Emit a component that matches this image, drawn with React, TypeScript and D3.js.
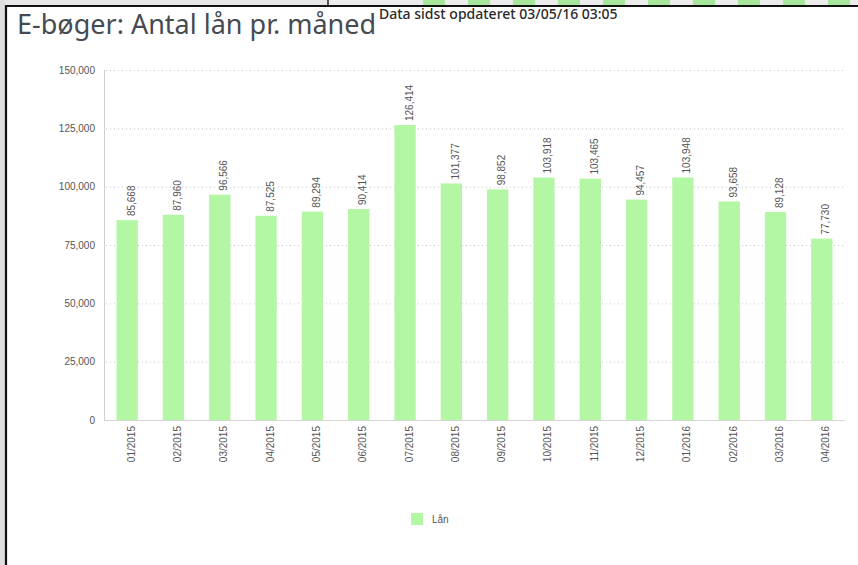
import { useRef, useEffect } from "react";
import * as d3 from "d3";

const months = [
  "01/2015", "02/2015", "03/2015", "04/2015", "05/2015", "06/2015", "07/2015", "08/2015",
  "09/2015", "10/2015", "11/2015", "12/2015", "01/2016", "02/2016", "03/2016", "04/2016",
];
const loans = [
  85668, 87960, 96566, 87525, 89294, 90414, 126414, 101377,
  98852, 103918, 103465, 94457, 103948, 93658, 89128, 77730,
];
const yTicks = [0, 25000, 50000, 75000, 100000, 125000, 150000];
const seriesName = "Lån";
const title = "E-bøger: Antal lån pr. måned";
const updated = "Data sidst opdateret 03/05/16 03:05";

const W = 858;
const H = 565;
const MARGIN = { top: 70, right: 13, bottom: 145, left: 104 };
const BAR = "#b3f6a4";
const LABEL = "#555";
const FONT = "'Liberation Sans', Arial, sans-serif";

export default function App() {
  const svgRef = useRef<SVGSVGElement>(null);

  useEffect(() => {
    if (!svgRef.current) return;
    const svg = d3.select(svgRef.current);
    svg.selectAll("*").remove();

    const innerW = W - MARGIN.left - MARGIN.right;
    const innerH = H - MARGIN.top - MARGIN.bottom;

    // dashboard frame bits (screenshot edges)
    svg.append("rect").attr("x", 0).attr("y", 0).attr("width", W).attr("height", H).attr("fill", "#fff");
    svg.append("rect").attr("x", 0).attr("y", 0).attr("width", W).attr("height", 5).attr("fill", "#e6e6e6");
    svg.append("rect").attr("x", 329).attr("y", 0).attr("width", W - 329).attr("height", 5).attr("fill", "#ececec");
    svg.selectAll("rect.strip")
      .data(d3.range(423, W, 45))
      .join("rect")
      .attr("class", "strip")
      .attr("x", (d) => d).attr("y", 0)
      .attr("width", 22).attr("height", 5)
      .attr("fill", "#a6e79c");
    svg.append("line").attr("x1", 328).attr("x2", 328).attr("y1", 0).attr("y2", 5)
      .attr("stroke", "#222").attr("stroke-width", 1.5);
    svg.append("rect").attr("x", 0).attr("y", 0).attr("width", 5).attr("height", H).attr("fill", "#dedede");
    svg.append("line").attr("x1", 5).attr("x2", W).attr("y1", 6).attr("y2", 6)
      .attr("stroke", "#111").attr("stroke-width", 2.2);
    svg.append("line").attr("x1", 6).attr("x2", 6).attr("y1", 5).attr("y2", H)
      .attr("stroke", "#111").attr("stroke-width", 2.2);

    // title
    svg.append("text")
      .attr("x", 17).attr("y", 34)
      .attr("fill", "#464b52")
      .style("font-family", "'Noto Sans', 'Open Sans', sans-serif")
      .style("font-size", "27px")
      .text(title);
    svg.append("text")
      .attr("x", 379).attr("y", 19)
      .attr("fill", "#2a2a2a")
      .style("font-family", "'Noto Sans', 'Open Sans', sans-serif")
      .style("font-size", "14px")
      .style("font-weight", 500)
      .text(updated);

    const g = svg.append("g").attr("transform", `translate(${MARGIN.left},${MARGIN.top})`);

    const x = d3.scaleBand<string>().domain(months).range([0, innerW]).paddingInner(0.54).paddingOuter(0.27);
    const y = d3.scaleLinear().domain([0, 150000]).range([innerH, 0]);
    const fmt = d3.format(",");

    // gridlines
    g.selectAll("line.grid")
      .data(yTicks.filter((t) => t > 0))
      .join("line")
      .attr("class", "grid")
      .attr("x1", 2).attr("x2", innerW)
      .attr("y1", (d) => y(d) + 0.5).attr("y2", (d) => y(d) + 0.5)
      .attr("stroke", "#c8c8c8").attr("stroke-width", 1)
      .attr("stroke-dasharray", "1,3");

    // y axis
    g.append("line")
      .attr("x1", 0.5).attr("x2", 0.5).attr("y1", 0).attr("y2", innerH)
      .attr("stroke", "#cfcfcf");
    g.selectAll("text.ytick")
      .data(yTicks)
      .join("text")
      .attr("class", "ytick")
      .attr("x", -9).attr("y", (d) => y(d))
      .attr("dy", "0.35em")
      .attr("text-anchor", "end")
      .attr("fill", LABEL)
      .style("font-family", FONT).style("font-size", "10px")
      .text((d) => fmt(d));

    // bars
    g.selectAll("rect.bar")
      .data(loans)
      .join("rect")
      .attr("class", "bar")
      .attr("x", (_, i) => x(months[i])!)
      .attr("y", (d) => y(d))
      .attr("width", x.bandwidth())
      .attr("height", (d) => innerH - y(d))
      .attr("fill", BAR);

    // value labels
    g.selectAll("text.val")
      .data(loans)
      .join("text")
      .attr("class", "val")
      .attr("transform", (d, i) => `translate(${x(months[i])! + x.bandwidth() / 2 + 4},${y(d) - 4}) rotate(-90)`)
      .attr("dy", "0.35em")
      .attr("text-anchor", "start")
      .attr("fill", LABEL)
      .style("font-family", FONT).style("font-size", "10px")
      .text((d) => fmt(d));

    // x axis
    g.append("line")
      .attr("x1", 0).attr("x2", innerW).attr("y1", innerH + 0.5).attr("y2", innerH + 0.5)
      .attr("stroke", "#d6d6d6");
    g.selectAll("text.xtick")
      .data(months)
      .join("text")
      .attr("class", "xtick")
      .attr("transform", (d) => `translate(${x(d)! + x.bandwidth() / 2 + 4},${innerH + 6}) rotate(-90)`)
      .attr("dy", "0.35em")
      .attr("text-anchor", "end")
      .attr("fill", LABEL)
      .style("font-family", FONT).style("font-size", "10px")
      .text((d) => d);

    // legend
    svg.append("rect")
      .attr("x", 411).attr("y", 513).attr("width", 12).attr("height", 12)
      .attr("fill", BAR);
    svg.append("text")
      .attr("x", 432).attr("y", 523)
      .attr("fill", LABEL)
      .style("font-family", FONT).style("font-size", "10px")
      .text(seriesName);
  }, []);

  return (
    <svg
      ref={svgRef}
      width={W}
      height={H}
      style={{ position: "absolute", left: 0, top: 0, display: "block" }}
    />
  );
}
